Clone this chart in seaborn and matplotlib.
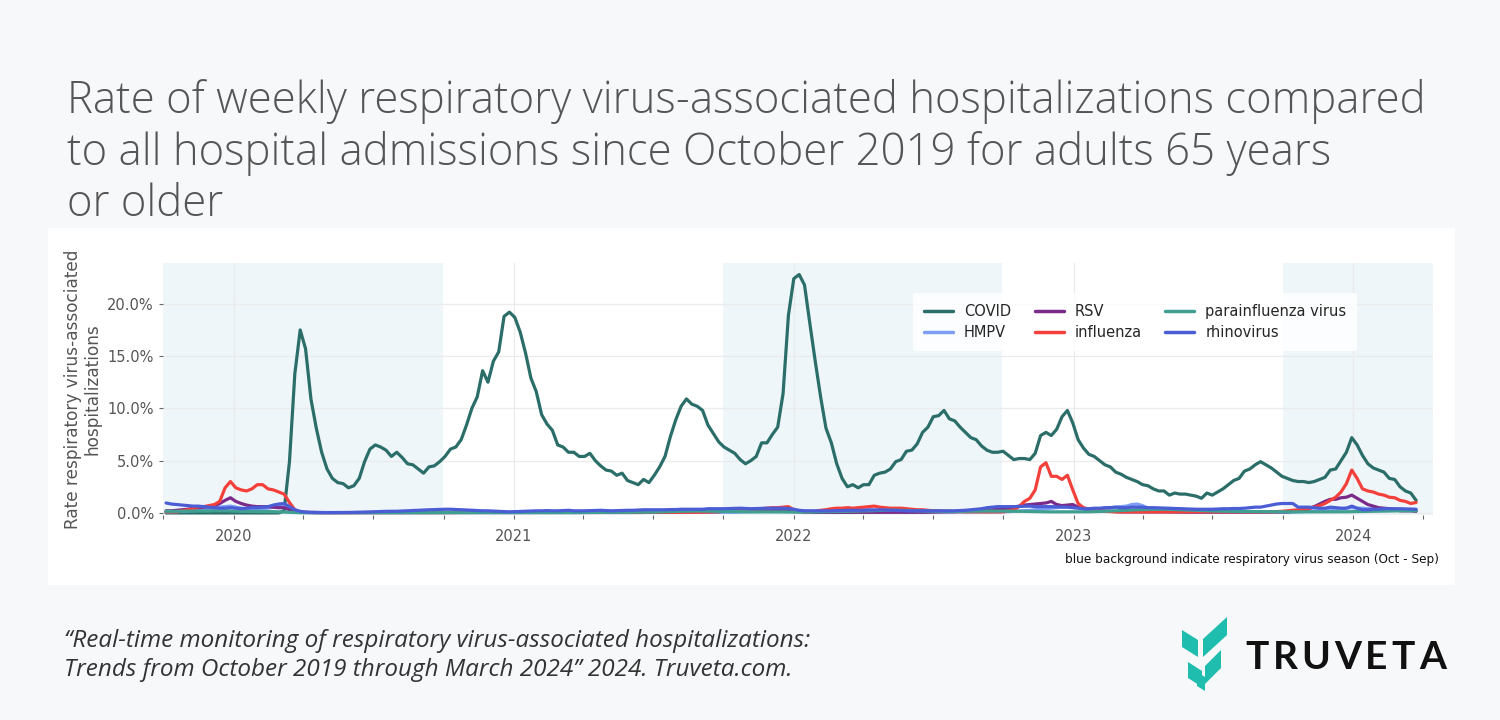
import pandas as pd
import matplotlib
matplotlib.use("Agg")
import matplotlib.pyplot as plt
import matplotlib.dates as mdates
from matplotlib.ticker import PercentFormatter
from matplotlib.patches import Polygon, Rectangle
import seaborn as sns

# weekly rates in %, first week 2019-10-05, 13 weeks per row (about one quarter)
covid = [
    0, 0, 0, 0, 0, 0, 0, 0, 0, 0, 0, 0, 0,
    0, 0, 0, 0, 0, 0, 0, 0, 0, 0.2, 4.9, 13.3, 17.5,
    15.7, 10.9, 8.1, 5.8, 4.2, 3.3, 2.9, 2.8, 2.4, 2.6, 3.3, 4.9, 6.1,
    6.5, 6.3, 6.0, 5.4, 5.8, 5.3, 4.7, 4.6, 4.2, 3.8, 4.4, 4.5, 4.9,
    5.4, 6.1, 6.3, 7.0, 8.4, 10.0, 11.1, 13.6, 12.5, 14.5, 15.4, 18.8, 19.2,
    18.7, 17.3, 15.3, 12.9, 11.6, 9.4, 8.5, 7.9, 6.5, 6.3, 5.8, 5.8, 5.4,
    5.4, 5.7, 5.0, 4.5, 4.1, 4.0, 3.6, 3.8, 3.1, 2.9, 2.7, 3.2, 2.9,
    3.6, 4.4, 5.4, 7.3, 8.9, 10.2, 10.9, 10.4, 10.2, 9.8, 8.4, 7.6, 6.8,
    6.3, 6.0, 5.7, 5.1, 4.7, 5.0, 5.4, 6.7, 6.7, 7.5, 8.2, 11.4, 18.9,
    22.4, 22.8, 21.8, 18.1, 14.5, 11.1, 8.1, 6.7, 4.7, 3.3, 2.5, 2.7, 2.4,
    2.7, 2.7, 3.6, 3.8, 3.9, 4.2, 4.9, 5.1, 5.9, 6.0, 6.6, 7.7, 8.2,
    9.2, 9.3, 9.8, 9.0, 8.8, 8.2, 7.7, 7.2, 7.0, 6.4, 6.0, 5.8, 5.8,
    5.9, 5.5, 5.1, 5.2, 5.2, 5.1, 5.7, 7.4, 7.7, 7.4, 8.0, 9.2, 9.8,
    8.6, 7.0, 6.2, 5.6, 5.4, 5.0, 4.6, 4.4, 3.9, 3.7, 3.4, 3.2, 3.0,
    2.7, 2.6, 2.3, 2.1, 2.1, 1.7, 1.9, 1.8, 1.8, 1.7, 1.6, 1.4, 1.9,
    1.7, 2.0, 2.3, 2.7, 3.1, 3.3, 4.0, 4.2, 4.6, 4.9, 4.6, 4.3, 3.9,
    3.5, 3.3, 3.1, 3.0, 3.0, 2.9, 3.0, 3.2, 3.4, 4.1, 4.2, 5.0, 5.8,
    7.2, 6.5, 5.5, 4.7, 4.3, 4.1, 3.9, 3.3, 3.2, 2.5, 2.1, 1.9, 1.2,
]
hmpv = [
    0.1, 0.1, 0.12, 0.15, 0.18, 0.2, 0.25, 0.3, 0.35, 0.45, 0.55, 0.6, 0.65,
    0.55, 0.45, 0.4, 0.35, 0.35, 0.4, 0.45, 0.55, 0.7, 0.8, 0.5, 0.2, 0.08,
    0.05, 0.04, 0.03, 0.03, 0.03, 0.03, 0.03, 0.03, 0.03, 0.03, 0.03, 0.03, 0.03,
    0.03, 0.03, 0.03, 0.03, 0.03, 0.03, 0.03, 0.03, 0.03, 0.03, 0.03, 0.03, 0.03,
    0.03, 0.03, 0.03, 0.03, 0.03, 0.03, 0.03, 0.03, 0.03, 0.03, 0.03, 0.03, 0.03,
    0.03, 0.03, 0.03, 0.03, 0.03, 0.03, 0.03, 0.03, 0.03, 0.03, 0.03, 0.03, 0.03,
    0.03, 0.03, 0.03, 0.03, 0.03, 0.03, 0.03, 0.04, 0.04, 0.04, 0.04, 0.04, 0.04,
    0.04, 0.04, 0.04, 0.04, 0.04, 0.04, 0.05, 0.05, 0.05, 0.05, 0.05, 0.05, 0.05,
    0.05, 0.05, 0.06, 0.08, 0.1, 0.12, 0.12, 0.15, 0.18, 0.2, 0.22, 0.25, 0.25,
    0.2, 0.18, 0.15, 0.15, 0.15, 0.18, 0.2, 0.22, 0.25, 0.28, 0.3, 0.3, 0.3,
    0.3, 0.28, 0.25, 0.22, 0.2, 0.18, 0.15, 0.12, 0.1, 0.1, 0.1, 0.1, 0.1,
    0.08, 0.08, 0.08, 0.08, 0.08, 0.08, 0.08, 0.08, 0.08, 0.08, 0.08, 0.09, 0.09,
    0.1, 0.12, 0.15, 0.18, 0.2, 0.25, 0.3, 0.35, 0.4, 0.45, 0.5, 0.55, 0.6,
    0.55, 0.5, 0.45, 0.4, 0.35, 0.4, 0.45, 0.5, 0.55, 0.6, 0.65, 0.8, 0.85,
    0.7, 0.45, 0.35, 0.25, 0.2, 0.15, 0.12, 0.1, 0.08, 0.08, 0.06, 0.05, 0.05,
    0.05, 0.05, 0.05, 0.05, 0.05, 0.05, 0.05, 0.05, 0.05, 0.05, 0.05, 0.05, 0.05,
    0.05, 0.06, 0.08, 0.1, 0.12, 0.15, 0.18, 0.2, 0.25, 0.3, 0.35, 0.4, 0.45,
    0.5, 0.45, 0.45, 0.4, 0.4, 0.35, 0.35, 0.3, 0.3, 0.3, 0.28, 0.25, 0.25,
]
rsv = [
    0.2, 0.2, 0.25, 0.3, 0.35, 0.45, 0.5, 0.55, 0.6, 0.7, 0.9, 1.2, 1.45,
    1.1, 0.9, 0.75, 0.65, 0.6, 0.6, 0.6, 0.55, 0.5, 0.5, 0.3, 0.1, 0.05,
    0.04, 0.03, 0.03, 0.03, 0.03, 0.03, 0.03, 0.03, 0.03, 0.03, 0.03, 0.03, 0.03,
    0.03, 0.03, 0.03, 0.03, 0.03, 0.03, 0.03, 0.03, 0.03, 0.03, 0.03, 0.03, 0.03,
    0.03, 0.03, 0.03, 0.03, 0.03, 0.03, 0.03, 0.03, 0.03, 0.03, 0.03, 0.03, 0.03,
    0.03, 0.03, 0.03, 0.03, 0.03, 0.03, 0.03, 0.03, 0.03, 0.03, 0.03, 0.03, 0.03,
    0.03, 0.03, 0.03, 0.03, 0.03, 0.04, 0.04, 0.04, 0.04, 0.04, 0.04, 0.05, 0.05,
    0.05, 0.06, 0.08, 0.1, 0.1, 0.12, 0.12, 0.12, 0.12, 0.12, 0.12, 0.12, 0.12,
    0.15, 0.15, 0.18, 0.2, 0.22, 0.25, 0.25, 0.25, 0.25, 0.25, 0.22, 0.2, 0.18,
    0.12, 0.1, 0.08, 0.06, 0.05, 0.05, 0.05, 0.05, 0.05, 0.05, 0.05, 0.05, 0.05,
    0.05, 0.05, 0.05, 0.05, 0.05, 0.05, 0.05, 0.05, 0.05, 0.05, 0.06, 0.06, 0.07,
    0.08, 0.1, 0.1, 0.1, 0.12, 0.15, 0.15, 0.2, 0.2, 0.25, 0.3, 0.3, 0.35,
    0.4, 0.45, 0.55, 0.65, 0.75, 0.8, 0.85, 0.9, 0.95, 1.1, 0.8, 0.7, 0.75,
    0.8, 0.55, 0.4, 0.3, 0.25, 0.2, 0.15, 0.15, 0.12, 0.1, 0.1, 0.1, 0.1,
    0.1, 0.1, 0.1, 0.1, 0.1, 0.09, 0.09, 0.09, 0.08, 0.08, 0.08, 0.08, 0.08,
    0.08, 0.08, 0.08, 0.08, 0.08, 0.08, 0.08, 0.08, 0.08, 0.09, 0.09, 0.1, 0.1,
    0.1, 0.1, 0.15, 0.2, 0.25, 0.4, 0.6, 0.85, 1.1, 1.3, 1.3, 1.45, 1.5,
    1.7, 1.4, 1.1, 0.8, 0.65, 0.5, 0.45, 0.4, 0.35, 0.2, 0.2, 0.2, 0.15,
]
influenza = [
    0.1, 0.1, 0.1, 0.2, 0.3, 0.4, 0.6, 0.6, 0.7, 0.8, 1.1, 2.4, 3.0,
    2.4, 2.2, 2.1, 2.3, 2.7, 2.7, 2.3, 2.2, 2.0, 1.8, 1.0, 0.3, 0.1,
    0.05, 0.04, 0.04, 0.03, 0.03, 0.03, 0.03, 0.03, 0.03, 0.03, 0.03, 0.03, 0.03,
    0.03, 0.03, 0.03, 0.03, 0.03, 0.03, 0.03, 0.03, 0.03, 0.03, 0.03, 0.03, 0.03,
    0.04, 0.04, 0.05, 0.05, 0.05, 0.05, 0.05, 0.05, 0.05, 0.05, 0.05, 0.05, 0.05,
    0.05, 0.05, 0.05, 0.05, 0.05, 0.05, 0.05, 0.05, 0.05, 0.05, 0.05, 0.05, 0.05,
    0.04, 0.04, 0.04, 0.04, 0.04, 0.04, 0.04, 0.04, 0.04, 0.04, 0.04, 0.04, 0.04,
    0.05, 0.05, 0.05, 0.05, 0.05, 0.05, 0.05, 0.06, 0.06, 0.07, 0.08, 0.1, 0.12,
    0.15, 0.2, 0.2, 0.25, 0.3, 0.3, 0.35, 0.4, 0.45, 0.5, 0.5, 0.55, 0.6,
    0.3, 0.15, 0.1, 0.1, 0.15, 0.25, 0.3, 0.4, 0.45, 0.45, 0.5, 0.45, 0.5,
    0.55, 0.6, 0.65, 0.55, 0.5, 0.45, 0.45, 0.45, 0.4, 0.35, 0.3, 0.3, 0.25,
    0.2, 0.2, 0.15, 0.15, 0.12, 0.12, 0.1, 0.1, 0.1, 0.1, 0.1, 0.1, 0.1,
    0.1, 0.2, 0.3, 0.6, 1.1, 1.4, 2.2, 4.4, 4.8, 3.5, 3.5, 3.2, 3.6,
    2.2, 0.9, 0.5, 0.35, 0.25, 0.2, 0.15, 0.12, 0.1, 0.1, 0.1, 0.1, 0.1,
    0.1, 0.1, 0.1, 0.1, 0.1, 0.1, 0.1, 0.1, 0.1, 0.1, 0.1, 0.1, 0.1,
    0.1, 0.1, 0.1, 0.1, 0.1, 0.1, 0.1, 0.1, 0.1, 0.1, 0.1, 0.1, 0.12,
    0.15, 0.2, 0.25, 0.3, 0.35, 0.45, 0.55, 0.7, 0.9, 1.2, 1.5, 2.0, 2.8,
    4.1, 3.3, 2.3, 2.1, 2.0, 1.8, 1.7, 1.5, 1.45, 1.2, 1.1, 0.9, 1.0,
]
parainfluenza = [
    0.15, 0.15, 0.16, 0.16, 0.17, 0.17, 0.18, 0.18, 0.18, 0.2, 0.2, 0.2, 0.18,
    0.16, 0.15, 0.14, 0.14, 0.13, 0.13, 0.12, 0.12, 0.1, 0.08, 0.05, 0.03, 0.02,
    0.02, 0.02, 0.02, 0.02, 0.02, 0.02, 0.02, 0.02, 0.02, 0.02, 0.02, 0.02, 0.02,
    0.02, 0.02, 0.02, 0.02, 0.02, 0.02, 0.02, 0.02, 0.02, 0.02, 0.02, 0.02, 0.02,
    0.02, 0.02, 0.02, 0.02, 0.02, 0.02, 0.02, 0.02, 0.02, 0.02, 0.02, 0.02, 0.02,
    0.03, 0.03, 0.03, 0.03, 0.03, 0.03, 0.03, 0.03, 0.03, 0.03, 0.03, 0.03, 0.03,
    0.04, 0.05, 0.05, 0.05, 0.05, 0.05, 0.06, 0.06, 0.06, 0.07, 0.07, 0.07, 0.08,
    0.08, 0.1, 0.12, 0.14, 0.15, 0.16, 0.17, 0.18, 0.18, 0.18, 0.17, 0.16, 0.15,
    0.14, 0.13, 0.12, 0.12, 0.11, 0.1, 0.1, 0.1, 0.1, 0.1, 0.1, 0.09, 0.08,
    0.08, 0.08, 0.08, 0.08, 0.09, 0.1, 0.1, 0.11, 0.12, 0.13, 0.14, 0.15, 0.16,
    0.18, 0.2, 0.22, 0.24, 0.25, 0.26, 0.26, 0.25, 0.24, 0.22, 0.2, 0.18, 0.17,
    0.16, 0.15, 0.14, 0.14, 0.14, 0.15, 0.15, 0.16, 0.17, 0.18, 0.18, 0.18, 0.18,
    0.18, 0.17, 0.16, 0.15, 0.14, 0.13, 0.12, 0.12, 0.11, 0.1, 0.1, 0.1, 0.1,
    0.1, 0.1, 0.1, 0.11, 0.12, 0.14, 0.16, 0.18, 0.2, 0.22, 0.25, 0.28, 0.3,
    0.32, 0.33, 0.34, 0.35, 0.35, 0.34, 0.32, 0.3, 0.28, 0.26, 0.24, 0.22, 0.2,
    0.18, 0.17, 0.16, 0.15, 0.15, 0.14, 0.14, 0.13, 0.13, 0.12, 0.12, 0.12, 0.12,
    0.11, 0.1, 0.1, 0.1, 0.1, 0.1, 0.1, 0.1, 0.1, 0.1, 0.1, 0.1, 0.11,
    0.12, 0.12, 0.13, 0.14, 0.15, 0.16, 0.17, 0.18, 0.19, 0.2, 0.2, 0.2, 0.2,
]
rhinovirus = [
    0.95, 0.85, 0.8, 0.75, 0.7, 0.65, 0.65, 0.6, 0.55, 0.5, 0.45, 0.45, 0.5,
    0.45, 0.4, 0.45, 0.5, 0.5, 0.55, 0.6, 0.75, 0.85, 0.9, 0.6, 0.3, 0.15,
    0.08, 0.05, 0.04, 0.03, 0.03, 0.03, 0.03, 0.03, 0.04, 0.05, 0.06, 0.08, 0.1,
    0.12, 0.14, 0.15, 0.15, 0.16, 0.18, 0.2, 0.22, 0.25, 0.28, 0.3, 0.32, 0.35,
    0.35, 0.35, 0.33, 0.3, 0.28, 0.25, 0.22, 0.2, 0.2, 0.18, 0.15, 0.12, 0.1,
    0.12, 0.15, 0.15, 0.18, 0.2, 0.2, 0.22, 0.2, 0.2, 0.22, 0.25, 0.2, 0.2,
    0.2, 0.22, 0.25, 0.25, 0.22, 0.2, 0.22, 0.25, 0.25, 0.25, 0.28, 0.3, 0.3,
    0.3, 0.3, 0.3, 0.32, 0.32, 0.35, 0.35, 0.35, 0.35, 0.35, 0.4, 0.4, 0.4,
    0.4, 0.42, 0.45, 0.45, 0.42, 0.4, 0.42, 0.45, 0.45, 0.45, 0.45, 0.45, 0.42,
    0.35, 0.25, 0.2, 0.2, 0.2, 0.2, 0.2, 0.2, 0.22, 0.22, 0.25, 0.25, 0.25,
    0.25, 0.28, 0.28, 0.3, 0.28, 0.25, 0.25, 0.22, 0.2, 0.2, 0.2, 0.2, 0.2,
    0.2, 0.2, 0.2, 0.2, 0.2, 0.22, 0.25, 0.3, 0.35, 0.4, 0.5, 0.55, 0.6,
    0.6, 0.6, 0.6, 0.62, 0.65, 0.65, 0.6, 0.6, 0.6, 0.6, 0.58, 0.55, 0.55,
    0.5, 0.45, 0.4, 0.4, 0.45, 0.45, 0.5, 0.5, 0.55, 0.5, 0.5, 0.55, 0.55,
    0.55, 0.5, 0.5, 0.48, 0.45, 0.45, 0.42, 0.4, 0.38, 0.36, 0.35, 0.35, 0.35,
    0.35, 0.38, 0.4, 0.4, 0.42, 0.42, 0.45, 0.5, 0.55, 0.55, 0.65, 0.75, 0.85,
    0.9, 0.9, 0.9, 0.55, 0.55, 0.55, 0.5, 0.45, 0.45, 0.55, 0.5, 0.45, 0.45,
    0.65, 0.45, 0.3, 0.3, 0.35, 0.35, 0.4, 0.4, 0.4, 0.4, 0.38, 0.36, 0.35,
]

virus_names = ["COVID", "HMPV", "RSV", "influenza", "parainfluenza virus", "rhinovirus"]
virus_colors = ["#2b6e69", "#7d9ef4", "#7b2a8a", "#f4403b", "#3fa092", "#4a5dd5"]
first_week = "2019-10-05"
# respiratory virus seasons (Oct - Sep) shown with blue background
season_starts = ["2019-10-01", "2021-10-01", "2023-10-01"]
season_ends = ["2020-09-30", "2022-09-30", "2024-04-14"]

weeks = pd.date_range(first_week, periods=len(covid), freq="7D")
wide = pd.DataFrame({
    "week": weeks,
    "COVID": covid,
    "HMPV": hmpv,
    "RSV": rsv,
    "influenza": influenza,
    "parainfluenza virus": parainfluenza,
    "rhinovirus": rhinovirus,
})
df = wide.melt(id_vars="week", var_name="virus", value_name="rate")

sns.set_theme(style="white")
plt.rcParams["font.family"] = ["DejaVu Sans"]

fig = plt.figure(figsize=(15, 7.2), dpi=100)
fig.patch.set_facecolor("#f7f8fa")
# white panel behind the chart
fig.patches.append(Rectangle((48 / 1500, 1 - 585 / 720), 1407 / 1500, 357 / 720,
                             transform=fig.transFigure, facecolor="white",
                             edgecolor="none", zorder=-10))

ax = fig.add_axes([163 / 1500, 1 - 515 / 720, 1270 / 1500, 252 / 720])
ax.set_facecolor("white")

for s, e in zip(season_starts, season_ends):
    ax.axvspan(pd.Timestamp(s), pd.Timestamp(e), color="#eef6f9", zorder=0, lw=0)

sns.lineplot(data=df, x="week", y="rate", hue="virus", hue_order=virus_names,
             palette=dict(zip(virus_names, virus_colors)), linewidth=2.3, ax=ax)

ax.set_xlim(pd.Timestamp("2019-10-01"), pd.Timestamp("2024-04-14"))
ax.set_ylim(-0.2, 23.9)
ax.yaxis.set_major_formatter(PercentFormatter(100, decimals=1))
ax.set_yticks([0, 5, 10, 15, 20])
ax.xaxis.set_major_locator(mdates.YearLocator())
ax.xaxis.set_major_formatter(mdates.DateFormatter("%Y"))
ax.xaxis.set_minor_locator(mdates.MonthLocator(bymonth=[1, 4, 7, 10]))
ax.grid(True, which="major", color="#ebebeb", linewidth=0.9)
ax.set_axisbelow(True)
ax.tick_params(axis="both", which="both", colors="#666666", labelcolor="#555555",
               labelsize=10.5, length=3, width=0.8, direction="out", bottom=True, left=True)
ax.tick_params(axis="x", pad=7)
sns.despine(ax=ax, left=True, bottom=True)

ax.set_xlabel("")
ax.set_ylabel("Rate respiratory virus-associated\nhospitalizations", fontsize=12.2,
              color="#555555", labelpad=4, linespacing=1.12)

handles, labels = ax.get_legend_handles_labels()
leg = ax.legend(handles, labels, ncol=3, loc="upper left", bbox_to_anchor=(0.5906, 0.881),
                borderaxespad=0, fontsize=10.5, frameon=True, facecolor="white",
                edgecolor="none", framealpha=0.85, handlelength=2.0, handletextpad=0.75,
                columnspacing=1.6, borderpad=0.75, labelspacing=0.4)
for line in leg.get_lines():
    line.set_linewidth(2.5)

ax.text(1.005, -0.152, "blue background indicate respiratory virus season (Oct - Sep)",
        transform=ax.transAxes, ha="right", va="top", fontsize=8.7, color="#111111")

fig.text(67 / 1500, 1 - 79 / 720,
         "Rate of weekly respiratory virus-associated hospitalizations compared\n"
         "to all hospital admissions since October 2019 for adults 65 years\n"
         "or older",
         ha="left", va="top", fontsize=31.5, color="#555555", family="Open Sans",
         fontweight="light", linespacing=1.2)

fig.text(64 / 1500, 1 - 629 / 720,
         "\u201cReal-time monitoring of respiratory virus-associated hospitalizations:\n"
         "Trends from October 2019 through March 2024\u201d 2024. Truveta.com.",
         ha="left", va="top", fontsize=17.5, color="#333333", family="Open Sans",
         style="italic", linespacing=1.27)

# logo mark
teal = "#1fbdae"
logo_shapes = [
    [(1182, 630), (1198, 640), (1198, 657), (1182, 647)],
    [(1203, 639), (1227, 617), (1227, 635), (1203, 657)],
    [(1188, 662), (1202, 671), (1202, 687), (1188, 678)],
    [(1205, 666), (1221, 650), (1221, 668), (1205, 684)],
    [(1197, 672), (1205, 677), (1205, 691), (1197, 686)],
]
for pts in logo_shapes:
    fig.patches.append(Polygon([(x / 1500, 1 - y / 720) for x, y in pts], closed=True,
                               transform=fig.transFigure, facecolor=teal, edgecolor="none"))

renderer = fig.canvas.get_renderer()
xpos = 1245 / 1500
for ch in "TRUVETA":
    t = fig.text(xpos, 1 - 669 / 720, ch, ha="left", va="baseline", fontsize=28,
                 family="Lato", fontweight="bold", color="#111111")
    w = t.get_window_extent(renderer).width
    xpos += (w + 4.0) / 1500

fig.savefig("out.png", dpi=100, facecolor=fig.get_facecolor())
